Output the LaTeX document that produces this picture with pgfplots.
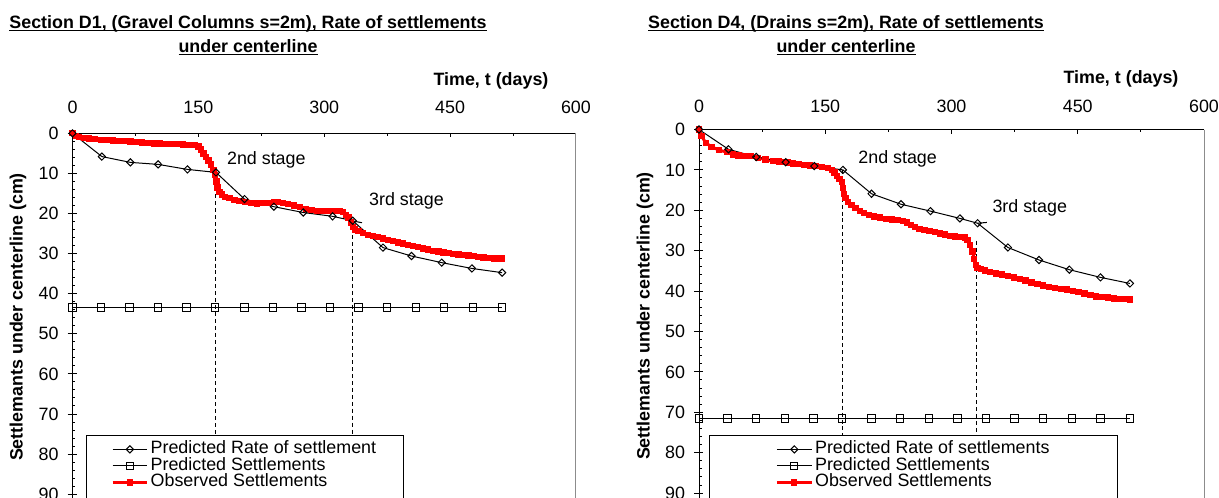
\documentclass[border=0pt]{standalone}
\usepackage{fontspec}
\setmainfont{Liberation Sans}
\usepackage{pgfplots}
\pgfplotsset{compat=1.18}
\newcommand\f{\fontsize{13.4}{15}\selectfont}
\newcommand\ul[1]{\setbox0\hbox{#1}\rlap{\rule[-2.6pt]{\wd0}{0.9pt}}\box0}
\pgfplotsset{
 chartbase/.style={
  scale only axis, clip=false,
  xmin=0,xmax=600,ymin=0,ymax=100,y dir=reverse,
  axis x line*=top, axis y line*=left,
  axis line style={black,line width=0.75pt,-},
  xtick={0,150,...,600}, minor x tick num=1,
  ytick={0,10,...,100}, minor y tick num=4,
  tick align=inside, major tick length=3pt, minor tick length=2pt,
  tick style={black,line width=0.75pt},
  extra y ticks={0,10,...,100}, extra y tick labels={},
  extra y tick style={tick align=outside, major tick length=3.75pt},
  ticklabel style={font=\f},
  /pgf/number format/assume math mode=true,
  yticklabel style={anchor=east,xshift=-7pt},
  legend cell align=left,
  legend image code/.code={\draw[mark repeat=2,mark phase=2,##1] plot coordinates {(0pt,0pt)(13pt,0pt)(26pt,0pt)};},
  legend style={draw=black, fill=white, line width=0.75pt, inner ysep=4.2pt, row sep=0pt, font=\f,
     nodes={inner xsep=1.5pt, inner ysep=0pt, text height=9.6pt, text depth=2.8pt}},
 },
 pr/.style={black,line width=0.75pt,mark=diamond,mark size=2.7pt,mark options={fill=white,solid,xscale=1.33}},
 ps/.style={black,line width=0.75pt,mark=square,mark size=2.75pt,mark options={fill=white,solid}},
 obs/.style={red,line width=2.2pt,mark=square*,mark size=2pt,mark options={solid,line width=0pt}},
 stg/.style={black,line width=0.75pt,dash pattern=on 3pt off 2.2pt},
}
\begin{document}
\begin{tikzpicture}[x=0.75pt,y=-0.75pt]
\path[use as bounding box] (0,0) rectangle (1219,497);
% ---------------- Left panel ----------------
\begin{axis}[chartbase, at={(54.375pt,-99.975pt)}, anchor=north west, width=377.6pt, height=300.75pt,
  xticklabel style={anchor=base,yshift=15pt},
  legend style={at={(axis description cs:0.026,0.2476)}, anchor=north west, inner xsep=18.75pt}]
\addplot[obs, forget plot] coordinates {
(0,0)(4,0.6)(8,0.9)(14,1.1)(20,1.3)(27,1.5)(34,1.6)(41,1.7)(48,1.8)(55,1.9)(62,2.0)(69,2.05)(76,2.1)(83,2.3)(90,2.4)(97,2.5)(104,2.5)(111,2.6)(118,2.7)(125,2.7)(132,2.8)(139,2.9)(146,2.9)(150,3.3)(153,4.0)(156,5.0)(159,5.9)(162,6.8)(165,7.8)(168,9.2)(170,10.4)(171.5,12.0)(173,13.5)(175,14.6)(178,15.3)(182,15.8)(187,16.2)(193,16.6)(199,16.9)(206,17.1)(213,17.3)(220,17.5)(227,17.4)(234,17.4)(240,17.2)(245,17.1)(251,17.4)(257,17.6)(264,18.0)(271,18.4)(278,18.8)(285,19.1)(292,19.3)(299,19.4)(306,19.4)(313,19.3)(318,19.3)(322,19.7)(326,20.3)(329,21.0)(332,22.2)(334,23.3)(337,24.0)(341,24.4)(346,24.9)(352,25.3)(358,25.6)(364,25.9)(370,26.2)(376,26.6)(382,26.9)(388,27.2)(394,27.5)(400,27.8)(406,28.1)(412,28.4)(418,28.7)(424,29.0)(430,29.3)(436,29.5)(442,29.75)(448,29.9)(454,30.1)(460,30.2)(466,30.4)(472,30.5)(478,30.6)(484,30.8)(490,31.0)(496,31.1)(502,31.2)(508,31.2)(512,31.25)};
\addplot[stg, forget plot] coordinates {(171,10)(171,100)};
\addplot[stg, forget plot] coordinates {(334,22)(334,100)};
\addplot[pr] coordinates {(0,0)(35,5.8)(69,7.25)(102,7.75)(137,9.0)(171,9.75)(205,16.4)(240,18.3)(275,19.75)(310,20.7)(334,21.8)(370,28.5)(404,30.6)(440,32.25)(476,33.7)(512,34.75)};
\addlegendentry{Predicted Rate of settlement}
\addplot[black,line width=0.75pt,forget plot] coordinates {(328,21.6)(345,22.3)};
\addplot[ps] coordinates {(0,43.4)(34,43.4)(68,43.4)(102,43.4)(136,43.4)(170,43.4)(205,43.4)(239,43.4)(273,43.4)(307,43.4)(341,43.4)(375,43.4)(409,43.4)(443,43.4)(477,43.4)(512,43.4)};
\addlegendentry{Predicted Settlements}
\addlegendimage{obs}\addlegendentry{Observed Settlements}
\addlegendimage{empty legend}\addlegendentry{}
\node[font=\f,anchor=base] at (axis cs:231,7.9) {2nd stage};
\node[font=\f,anchor=base] at (axis cs:398,17.9) {3rd stage};
\draw[black!45,line width=0.75pt] (rel axis cs:1,0) -- (rel axis cs:1,1);
\end{axis}
% ---------------- Right panel ----------------
\begin{axis}[chartbase, at={(524.25pt,-97.125pt)}, anchor=north west, width=378.75pt, height=303pt,
  xticklabel style={anchor=base,yshift=12.4pt},
  legend style={at={(axis description cs:0.0198,0.2438)}, anchor=north west, inner xsep=49.5pt}]
\addplot[obs, forget plot] coordinates {
(0,0)(3,1.6)(8,3.3)(15,4.3)(24,5.1)(33,5.6)(40,6.2)(47,6.4)(54,6.5)(61,6.6)(70,7.0)(79,7.4)(88,7.8)(95,7.9)(100,8.1)(106,8.2)(112,8.4)(119,8.6)(125,8.8)(132,8.9)(139,9.05)(146,9.3)(153,9.5)(158,10.0)(161,10.6)(164,11.5)(167,12.2)(169.5,13.0)(171,14.5)(172.5,16.0)(174,17.0)(177,17.9)(181,18.7)(186,19.4)(191,20.1)(196,20.7)(202,21.1)(208,21.5)(215,21.8)(222,22.1)(229,22.3)(236,22.4)(242,22.6)(247,23.0)(252,23.6)(257,24.2)(262,24.6)(268,24.9)(274,25.2)(280,25.4)(286,25.7)(292,26.0)(298,26.3)(304,26.5)(310,26.6)(316,26.7)(319,27.4)(322,28.6)(325,30.2)(327,32.0)(329,33.5)(331,34.3)(335,34.6)(340,34.9)(346,35.2)(353,35.6)(360,35.9)(367,36.2)(374,36.6)(381,37.0)(388,37.4)(395,37.9)(402,38.3)(409,38.6)(416,38.9)(423,39.2)(430,39.4)(437,39.6)(444,39.9)(451,40.2)(458,40.6)(465,41.0)(472,41.3)(479,41.5)(486,41.6)(493,41.8)(500,41.9)(506,42.0)(512,42.1)};
\addplot[stg, forget plot] coordinates {(170.5,10)(170.5,100)};
\addplot[stg, forget plot] coordinates {(329.5,27.5)(329.5,100)};
\addplot[pr] coordinates {(0,0)(35,4.9)(68,6.8)(103,8.1)(137,9.05)(171,10.0)(205,15.9)(240,18.5)(275,20.2)(310,22.0)(331,23.2)(367,29.2)(404,32.3)(440,34.7)(477,36.6)(512,38.1)};
\addlegendentry{Predicted Rate of settlements}
\addplot[black,line width=0.75pt,forget plot] coordinates {(331,23.2)(342,23.0)};
\addplot[ps] coordinates {(0,71.5)(34,71.5)(68,71.5)(102,71.5)(136,71.5)(170,71.5)(205,71.5)(239,71.5)(273,71.5)(307,71.5)(341,71.5)(375,71.5)(409,71.5)(443,71.5)(477,71.5)(512,71.5)};
\addlegendentry{Predicted Settlements}
\addlegendimage{obs}\addlegendentry{Observed Settlements}
\addlegendimage{empty legend}\addlegendentry{}
\node[font=\f,anchor=base] at (axis cs:236,8.4) {2nd stage};
\node[font=\f,anchor=base] at (axis cs:393,20.5) {3rd stage};
\draw[black!45,line width=0.75pt] (rel axis cs:1,0) -- (rel axis cs:1,1);
\end{axis}
% ---------------- Titles and axis labels ----------------
\node[font=\f\bfseries,anchor=base] at (248,28) {\ul{Section D1, (Gravel Columns s=2m), Rate of settlements}};
\node[font=\f\bfseries,anchor=base] at (248,52) {\ul{under centerline}};
\node[font=\f\bfseries,anchor=base] at (491,85) {Time, t (days)};
\node[font=\f\bfseries,rotate=90] at (18,317) {Settlemants under centerline (cm)};
\node[font=\f\bfseries,anchor=base] at (846,28) {\ul{Section D4, (Drains s=2m), Rate of settlements}};
\node[font=\f\bfseries,anchor=base] at (846,52) {\ul{under centerline}};
\node[font=\f\bfseries,anchor=base] at (1121,83) {Time, t (days)};
\node[font=\f\bfseries,rotate=90] at (645,316) {Settlemants under centerline (cm)};
\end{tikzpicture}
\end{document}
